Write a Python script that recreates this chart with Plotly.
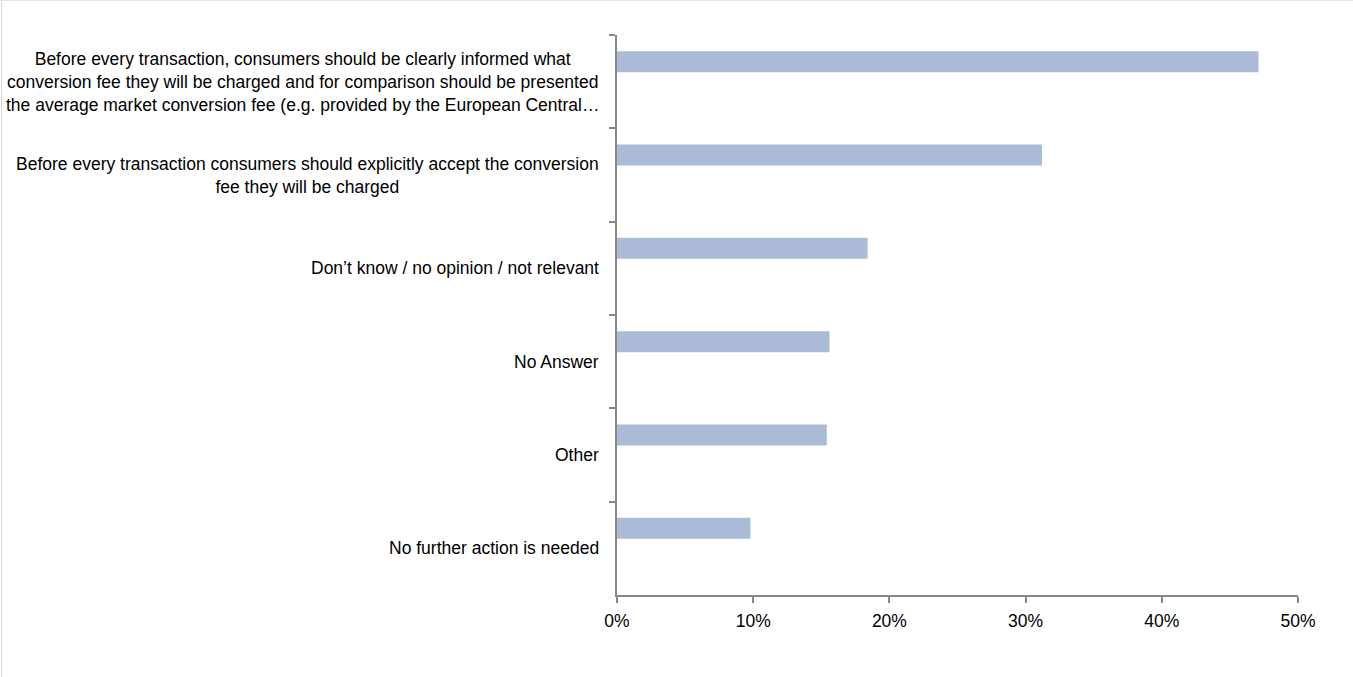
import plotly.graph_objects as go

# Survey answers (top to bottom) and share of respondents
categories = [
    "Before every transaction, consumers should be clearly informed what<br>"
    "conversion fee they will be charged and for comparison should be presented<br>"
    "the average market conversion fee (e.g. provided by the European Central…",
    "Before every transaction consumers should explicitly accept the conversion<br>"
    "fee they will be charged",
    "Don’t know / no opinion / not relevant",
    "No Answer",
    "Other",
    "No further action is needed",
]
shares = [0.471, 0.312, 0.184, 0.156, 0.154, 0.098]
x_ticks = [0, 0.1, 0.2, 0.3, 0.4, 0.5]
x_tick_labels = ["0%", "10%", "20%", "30%", "40%", "50%"]

W, H = 1353, 677
M_L, M_R, M_T, M_B = 617, 55, 35, 82
PW, PH = W - M_L - M_R, H - M_T - M_B

FONT = "Liberation Sans, Arial, sans-serif"
FONT_SIZE = 17.5
AXIS_GREY = "#878787"
BAR_BLUE = "#AABAD7"


def px_to_paper_x(px):
    return (px - M_L) / PW


def px_to_paper_y(py):
    return 1 - (py - M_T) / PH


fig = go.Figure()
fig.add_trace(go.Bar(
    x=shares,
    y=categories,
    orientation="h",
    marker=dict(color=BAR_BLUE, line=dict(width=0)),
    width=0.225,
    offset=-0.327,
    hoverinfo="x+y",
))

# Category labels, centred line by line and right-aligned against the axis
annotations = []
for cat in categories:
    annotations.append(dict(
        text=cat,
        x=px_to_paper_x(601), xref="paper", xanchor="right",
        y=cat, yref="y", yanchor="middle",
        showarrow=False, align="center",
        font=dict(family=FONT, size=FONT_SIZE, color="#000000"),
    ))

# Thin chart-area frame visible on the left and top edges
shapes = [
    dict(type="line", xref="paper", yref="paper",
         x0=px_to_paper_x(1.5), x1=px_to_paper_x(1.5),
         y0=px_to_paper_y(0), y1=px_to_paper_y(H),
         line=dict(color="#D9D9D9", width=1)),
    dict(type="line", xref="paper", yref="paper",
         x0=px_to_paper_x(0), x1=px_to_paper_x(W),
         y0=px_to_paper_y(0.5), y1=px_to_paper_y(0.5),
         line=dict(color="#E6E6E6", width=1)),
]

fig.update_layout(
    width=W, height=H,
    margin=dict(l=M_L, r=M_R, t=M_T, b=M_B, pad=0),
    paper_bgcolor="white", plot_bgcolor="white",
    showlegend=False,
    font=dict(family=FONT, size=FONT_SIZE, color="#000000"),
    annotations=annotations,
    shapes=shapes,
    xaxis=dict(
        range=[0, 0.5],
        tickvals=x_ticks, ticktext=x_tick_labels,
        ticks="outside", ticklen=6, tickwidth=1.5, tickcolor=AXIS_GREY,
        ticklabelstandoff=3,
        showline=True, linecolor=AXIS_GREY, linewidth=1.5,
        showgrid=False, zeroline=False,
        tickfont=dict(family=FONT, size=FONT_SIZE, color="#000000"),
        fixedrange=True,
    ),
    yaxis=dict(
        type="category",
        categoryorder="array", categoryarray=categories,
        range=[len(categories) - 0.5, -0.5],
        tickson="boundaries",
        ticks="outside", ticklen=6, tickwidth=1.5, tickcolor=AXIS_GREY,
        showline=True, linecolor=AXIS_GREY, linewidth=1.5,
        showgrid=False, zeroline=False,
        showticklabels=False,
        fixedrange=True,
    ),
)

fig.write_html("out.html")
